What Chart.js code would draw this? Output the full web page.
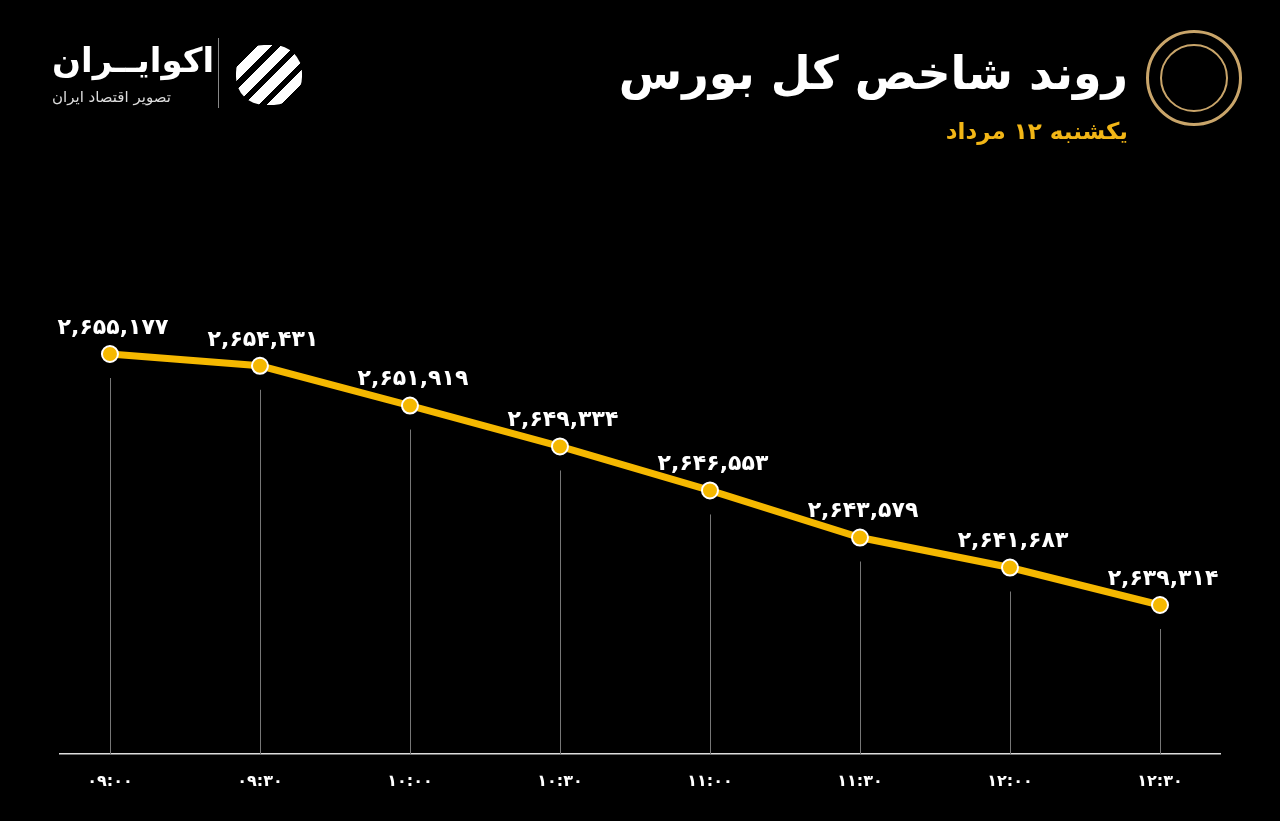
<!DOCTYPE html>
<html><head><meta charset="utf-8">
<script src="https://cdn.jsdelivr.net/npm/chart.js@4"></script>
<style>
html,body{margin:0;padding:0;background:#000;width:1280px;height:821px;overflow:hidden;font-family:"DejaVu Sans",sans-serif}
#wrap{position:absolute;left:0;top:0;width:1280px;height:821px}
.t{position:absolute;direction:rtl;white-space:nowrap}
</style></head><body>
<div id="wrap"><canvas id="c" width="1280" height="821"></canvas></div>
<div class="t" style="right:152px;top:46px;color:#fff;font-size:46px;font-weight:bold">روند شاخص کل بورس</div>
<div class="t" style="right:152px;top:118px;color:#F2B616;font-size:23px;font-weight:bold">یکشنبه ۱۲ مرداد</div>
<div style="position:absolute;left:1146px;top:30px;width:96px;height:96px;border-radius:50%;border:3px solid #C9A56A;box-sizing:border-box"></div>
<div style="position:absolute;left:1160px;top:44px;width:68px;height:68px;border-radius:50%;border:2px solid #C9A56A;box-sizing:border-box"></div>
<div class="t" style="left:52px;top:40px;color:#fff;font-size:34px;font-weight:bold">اکوایــران</div>
<div class="t" style="left:52px;top:88px;color:#ddd;font-size:15px">تصویر اقتصاد ایران</div>
<div style="position:absolute;left:218px;top:38px;width:1px;height:70px;background:#888"></div>
<div style="position:absolute;left:236px;top:45px;width:66px;height:60px;background:repeating-linear-gradient(135deg,#fff 0 10px,#000 10px 16px);border-radius:28px"></div>
<script>
const categories=["۰۹:۰۰","۰۹:۳۰","۱۰:۰۰","۱۰:۳۰","۱۱:۰۰","۱۱:۳۰","۱۲:۰۰","۱۲:۳۰"];
const indexValues=[2655177,2654431,2651919,2649334,2646553,2643579,2641683,2639314];
const fa=s=>String(s).replace(/\d/g,d=>"۰۱۲۳۴۵۶۷۸۹"[d]);
const fmt=v=>fa(v.toLocaleString('en-US'));
const pts=indexValues.map((v,i)=>({x:i,y:v}));
const plug={id:'p',
 beforeDatasetsDraw(ch){const c=ch.ctx,x=ch.scales.x,y=ch.scales.y;c.save();c.strokeStyle='#777';c.lineWidth=1;
  pts.forEach(p=>{const px=Math.round(x.getPixelForValue(p.x))+0.5;c.beginPath();c.moveTo(px,y.getPixelForValue(p.y)+24);c.lineTo(px,ch.chartArea.bottom);c.stroke();});c.restore();},
 afterDatasetsDraw(ch){const c=ch.ctx,x=ch.scales.x,y=ch.scales.y;c.save();c.fillStyle='#fff';c.font='bold 22px "DejaVu Sans"';c.textAlign='center';c.textBaseline='middle';
  pts.forEach(p=>{c.fillText(fmt(p.y),x.getPixelForValue(p.x)+3,y.getPixelForValue(p.y)-26);});c.restore();}};
new Chart(document.getElementById('c'),{type:'line',
 data:{datasets:[{data:pts,borderColor:'#F5B800',borderWidth:7,pointRadius:8,pointBackgroundColor:'#F5B800',pointBorderColor:'#fff',pointBorderWidth:2,tension:0}]},
 options:{responsive:false,animation:false,layout:{padding:{top:300,bottom:27,left:60,right:60}},
  plugins:{legend:{display:false},tooltip:{enabled:false}},
  scales:{x:{type:'linear',min:-0.333,max:7.4,grid:{display:false},border:{color:'#ddd',width:1.5},
    afterBuildTicks(s){s.ticks=categories.map((_,i)=>({value:i}));},
    afterFit(s){s.height=40;},
    ticks:{color:'#fff',padding:10,font:{size:16,weight:'bold',family:'DejaVu Sans'},maxRotation:0,callback:v=>categories[v]}},
   y:{display:false,min:2629897,max:2658590}}},
 plugins:[plug]});
</script></body></html>
